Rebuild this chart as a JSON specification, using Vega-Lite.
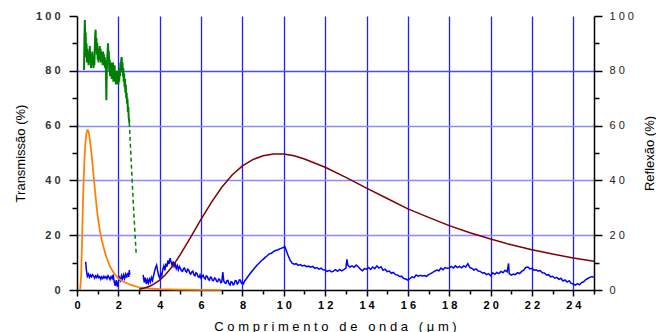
{
  "$schema": "https://vega.github.io/schema/vega-lite/v6.json",
  "width": 517,
  "height": 274,
  "autosize": {"type": "none"},
  "padding": {"left": 77, "top": 16, "right": 62, "bottom": 42},
  "config": {"view": {"stroke": null}, "font": "Liberation Sans"},
  "data": {"values": [
    {"s":"R1","x":0.42,"y":10.3},{"s":"R1","x":0.45,"y":7.5},{"s":"R1","x":0.48,"y":6.0},{"s":"R1","x":0.5,"y":5.0},{"s":"R1","x":0.55,"y":5.8},{"s":"R1","x":0.6,"y":4.6},{"s":"R1","x":0.65,"y":5.5},{"s":"R1","x":0.7,"y":4.8},{"s":"R1","x":0.75,"y":5.6},{"s":"R1","x":0.8,"y":5.1},{"s":"R1","x":0.85,"y":4.3},{"s":"R1","x":0.9,"y":5.2},{"s":"R1","x":0.95,"y":4.6},{"s":"R1","x":1.0,"y":5.4},{"s":"R1","x":1.05,"y":4.5},{"s":"R1","x":1.1,"y":4.9},{"s":"R1","x":1.15,"y":3.9},{"s":"R1","x":1.2,"y":4.8},{"s":"R1","x":1.25,"y":4.2},{"s":"R1","x":1.3,"y":5.0},{"s":"R1","x":1.35,"y":4.4},{"s":"R1","x":1.4,"y":4.9},{"s":"R1","x":1.45,"y":4.1},{"s":"R1","x":1.5,"y":5.2},{"s":"R1","x":1.55,"y":4.6},{"s":"R1","x":1.6,"y":3.8},{"s":"R1","x":1.65,"y":4.9},{"s":"R1","x":1.7,"y":4.2},{"s":"R1","x":1.75,"y":5.6},{"s":"R1","x":1.8,"y":3.0},{"s":"R1","x":1.85,"y":1.5},{"s":"R1","x":1.9,"y":3.6},{"s":"R1","x":1.95,"y":1.2},{"s":"R1","x":2.0,"y":2.8},{"s":"R1","x":2.05,"y":4.5},{"s":"R1","x":2.1,"y":3.5},{"s":"R1","x":2.15,"y":5.2},{"s":"R1","x":2.2,"y":4.0},{"s":"R1","x":2.25,"y":5.5},{"s":"R1","x":2.3,"y":4.2},{"s":"R1","x":2.35,"y":5.8},{"s":"R1","x":2.4,"y":4.5},{"s":"R1","x":2.45,"y":6.2},{"s":"R1","x":2.5,"y":4.8},{"s":"R1","x":2.53,"y":7.3},{"s":"R1","x":2.55,"y":5.5},
    {"s":"R2","x":3.2,"y":5.5},{"s":"R2","x":3.25,"y":2.8},{"s":"R2","x":3.3,"y":4.5},{"s":"R2","x":3.35,"y":2.2},{"s":"R2","x":3.4,"y":3.8},{"s":"R2","x":3.45,"y":2.5},{"s":"R2","x":3.5,"y":4.0},{"s":"R2","x":3.55,"y":2.9},{"s":"R2","x":3.6,"y":4.6},{"s":"R2","x":3.65,"y":3.5},{"s":"R2","x":3.7,"y":5.2},{"s":"R2","x":3.75,"y":6.8},{"s":"R2","x":3.8,"y":8.2},{"s":"R2","x":3.85,"y":9.1},{"s":"R2","x":3.9,"y":7.0},{"s":"R2","x":3.95,"y":5.2},{"s":"R2","x":4.0,"y":4.4},{"s":"R2","x":4.05,"y":6.0},{"s":"R2","x":4.1,"y":5.2},{"s":"R2","x":4.15,"y":7.5},{"s":"R2","x":4.2,"y":8.8},{"s":"R2","x":4.25,"y":7.2},{"s":"R2","x":4.3,"y":9.6},{"s":"R2","x":4.35,"y":8.5},{"s":"R2","x":4.4,"y":10.8},{"s":"R2","x":4.45,"y":9.5},{"s":"R2","x":4.5,"y":11.6},{"s":"R2","x":4.55,"y":10.2},{"s":"R2","x":4.6,"y":9.0},{"s":"R2","x":4.65,"y":10.4},{"s":"R2","x":4.7,"y":8.6},{"s":"R2","x":4.75,"y":9.5},{"s":"R2","x":4.8,"y":7.8},{"s":"R2","x":4.85,"y":8.9},{"s":"R2","x":4.9,"y":7.4},{"s":"R2","x":4.95,"y":8.6},{"s":"R2","x":5.0,"y":7.9},{"s":"R2","x":5.05,"y":7.0},{"s":"R2","x":5.1,"y":6.8},{"s":"R2","x":5.15,"y":7.8},{"s":"R2","x":5.2,"y":8.0},{"s":"R2","x":5.25,"y":6.9},{"s":"R2","x":5.3,"y":6.5},{"s":"R2","x":5.35,"y":7.6},{"s":"R2","x":5.4,"y":7.4},{"s":"R2","x":5.45,"y":6.2},{"s":"R2","x":5.5,"y":5.8},{"s":"R2","x":5.55,"y":6.6},{"s":"R2","x":5.6,"y":6.9},{"s":"R2","x":5.65,"y":5.6},{"s":"R2","x":5.7,"y":5.2},{"s":"R2","x":5.75,"y":6.3},{"s":"R2","x":5.8,"y":6.0},{"s":"R2","x":5.85,"y":4.9},{"s":"R2","x":5.9,"y":4.6},{"s":"R2","x":5.95,"y":5.5},{"s":"R2","x":6.0,"y":4.3},{"s":"R2","x":6.05,"y":4.9},{"s":"R2","x":6.1,"y":5.4},{"s":"R2","x":6.15,"y":4.4},{"s":"R2","x":6.2,"y":4.0},{"s":"R2","x":6.25,"y":5.1},{"s":"R2","x":6.3,"y":5.0},{"s":"R2","x":6.35,"y":3.9},{"s":"R2","x":6.4,"y":3.6},{"s":"R2","x":6.45,"y":4.7},{"s":"R2","x":6.5,"y":4.6},{"s":"R2","x":6.55,"y":3.5},{"s":"R2","x":6.6,"y":3.4},{"s":"R2","x":6.65,"y":4.4},{"s":"R2","x":6.7,"y":4.2},{"s":"R2","x":6.75,"y":3.2},{"s":"R2","x":6.8,"y":3.0},{"s":"R2","x":6.85,"y":4.0},{"s":"R2","x":6.9,"y":3.8},{"s":"R2","x":6.95,"y":2.7},{"s":"R2","x":7.0,"y":2.9},{"s":"R2","x":7.05,"y":6.5},{"s":"R2","x":7.1,"y":3.2},{"s":"R2","x":7.15,"y":2.6},{"s":"R2","x":7.2,"y":2.4},{"s":"R2","x":7.25,"y":3.4},{"s":"R2","x":7.3,"y":3.5},{"s":"R2","x":7.35,"y":2.2},{"s":"R2","x":7.4,"y":1.8},{"s":"R2","x":7.45,"y":3.0},{"s":"R2","x":7.5,"y":2.9},{"s":"R2","x":7.55,"y":1.9},{"s":"R2","x":7.6,"y":2.2},{"s":"R2","x":7.65,"y":3.4},{"s":"R2","x":7.7,"y":3.3},{"s":"R2","x":7.75,"y":2.2},{"s":"R2","x":7.8,"y":2.6},{"s":"R2","x":7.85,"y":3.7},{"s":"R2","x":7.9,"y":3.6},{"s":"R2","x":7.95,"y":2.5},{"s":"R2","x":8.0,"y":2.8},{"s":"R2","x":8.05,"y":2.3},{"s":"R2","x":8.1,"y":3.2},{"s":"R2","x":8.2,"y":4.2},{"s":"R2","x":8.3,"y":5.3},{"s":"R2","x":8.4,"y":6.3},{"s":"R2","x":8.5,"y":7.2},{"s":"R2","x":8.6,"y":8.1},{"s":"R2","x":8.7,"y":9.0},{"s":"R2","x":8.8,"y":9.8},{"s":"R2","x":8.9,"y":10.6},{"s":"R2","x":9.0,"y":11.2},{"s":"R2","x":9.1,"y":11.9},{"s":"R2","x":9.2,"y":12.5},{"s":"R2","x":9.3,"y":13.2},{"s":"R2","x":9.4,"y":13.4},{"s":"R2","x":9.5,"y":14.0},{"s":"R2","x":9.6,"y":14.4},{"s":"R2","x":9.7,"y":14.6},{"s":"R2","x":9.8,"y":15.0},{"s":"R2","x":9.9,"y":15.3},{"s":"R2","x":10.0,"y":15.6},{"s":"R2","x":10.05,"y":15.8},{"s":"R2","x":10.1,"y":14.8},{"s":"R2","x":10.2,"y":12.8},{"s":"R2","x":10.3,"y":11.0},{"s":"R2","x":10.4,"y":9.8},{"s":"R2","x":10.5,"y":9.4},{"s":"R2","x":10.6,"y":9.6},{"s":"R2","x":10.7,"y":9.0},{"s":"R2","x":10.8,"y":9.3},{"s":"R2","x":10.9,"y":8.8},{"s":"R2","x":11.0,"y":9.0},{"s":"R2","x":11.1,"y":8.5},{"s":"R2","x":11.2,"y":8.7},{"s":"R2","x":11.3,"y":8.3},{"s":"R2","x":11.4,"y":8.6},{"s":"R2","x":11.5,"y":7.9},{"s":"R2","x":11.6,"y":8.2},{"s":"R2","x":11.7,"y":7.6},{"s":"R2","x":11.8,"y":8.0},{"s":"R2","x":11.9,"y":7.4},{"s":"R2","x":12.0,"y":7.3},{"s":"R2","x":12.1,"y":6.8},{"s":"R2","x":12.2,"y":7.2},{"s":"R2","x":12.3,"y":6.6},{"s":"R2","x":12.4,"y":6.9},{"s":"R2","x":12.5,"y":7.4},{"s":"R2","x":12.6,"y":6.8},{"s":"R2","x":12.7,"y":7.5},{"s":"R2","x":12.8,"y":7.0},{"s":"R2","x":12.9,"y":7.4},{"s":"R2","x":13.0,"y":8.0},{"s":"R2","x":13.05,"y":11.2},{"s":"R2","x":13.1,"y":9.0},{"s":"R2","x":13.2,"y":8.4},{"s":"R2","x":13.3,"y":8.8},{"s":"R2","x":13.4,"y":8.3},{"s":"R2","x":13.5,"y":9.1},{"s":"R2","x":13.6,"y":8.5},{"s":"R2","x":13.7,"y":7.6},{"s":"R2","x":13.8,"y":7.0},{"s":"R2","x":13.9,"y":7.8},{"s":"R2","x":14.0,"y":7.6},{"s":"R2","x":14.1,"y":8.2},{"s":"R2","x":14.2,"y":7.5},{"s":"R2","x":14.3,"y":8.4},{"s":"R2","x":14.4,"y":7.8},{"s":"R2","x":14.5,"y":8.8},{"s":"R2","x":14.6,"y":8.0},{"s":"R2","x":14.7,"y":8.5},{"s":"R2","x":14.8,"y":7.2},{"s":"R2","x":14.9,"y":7.6},{"s":"R2","x":15.0,"y":6.7},{"s":"R2","x":15.1,"y":6.9},{"s":"R2","x":15.2,"y":6.1},{"s":"R2","x":15.3,"y":6.4},{"s":"R2","x":15.4,"y":5.6},{"s":"R2","x":15.5,"y":5.5},{"s":"R2","x":15.6,"y":4.9},{"s":"R2","x":15.7,"y":5.0},{"s":"R2","x":15.8,"y":4.2},{"s":"R2","x":15.9,"y":4.0},{"s":"R2","x":16.0,"y":3.6},{"s":"R2","x":16.1,"y":4.2},{"s":"R2","x":16.2,"y":4.8},{"s":"R2","x":16.3,"y":4.5},{"s":"R2","x":16.4,"y":5.5},{"s":"R2","x":16.5,"y":5.0},{"s":"R2","x":16.6,"y":5.4},{"s":"R2","x":16.7,"y":5.1},{"s":"R2","x":16.8,"y":5.3},{"s":"R2","x":16.9,"y":5.0},{"s":"R2","x":17.0,"y":5.6},{"s":"R2","x":17.1,"y":6.0},{"s":"R2","x":17.2,"y":6.4},{"s":"R2","x":17.3,"y":6.9},{"s":"R2","x":17.4,"y":7.3},{"s":"R2","x":17.5,"y":7.0},{"s":"R2","x":17.6,"y":8.0},{"s":"R2","x":17.7,"y":7.4},{"s":"R2","x":17.8,"y":8.2},{"s":"R2","x":17.9,"y":7.9},{"s":"R2","x":18.0,"y":8.0},{"s":"R2","x":18.1,"y":8.6},{"s":"R2","x":18.2,"y":8.0},{"s":"R2","x":18.3,"y":8.8},{"s":"R2","x":18.4,"y":8.2},{"s":"R2","x":18.5,"y":8.6},{"s":"R2","x":18.6,"y":8.1},{"s":"R2","x":18.7,"y":8.8},{"s":"R2","x":18.8,"y":8.4},{"s":"R2","x":18.9,"y":9.6},{"s":"R2","x":19.0,"y":8.2},{"s":"R2","x":19.1,"y":7.9},{"s":"R2","x":19.2,"y":7.3},{"s":"R2","x":19.3,"y":7.7},{"s":"R2","x":19.4,"y":6.9},{"s":"R2","x":19.5,"y":6.8},{"s":"R2","x":19.6,"y":6.2},{"s":"R2","x":19.7,"y":6.3},{"s":"R2","x":19.8,"y":5.6},{"s":"R2","x":19.9,"y":6.0},{"s":"R2","x":20.0,"y":5.2},{"s":"R2","x":20.1,"y":6.3},{"s":"R2","x":20.2,"y":5.7},{"s":"R2","x":20.3,"y":6.4},{"s":"R2","x":20.4,"y":6.0},{"s":"R2","x":20.5,"y":6.8},{"s":"R2","x":20.6,"y":6.3},{"s":"R2","x":20.7,"y":7.2},{"s":"R2","x":20.8,"y":6.6},{"s":"R2","x":20.87,"y":9.7},{"s":"R2","x":20.9,"y":6.0},{"s":"R2","x":21.0,"y":5.4},{"s":"R2","x":21.1,"y":5.8},{"s":"R2","x":21.2,"y":5.6},{"s":"R2","x":21.3,"y":6.3},{"s":"R2","x":21.4,"y":6.0},{"s":"R2","x":21.5,"y":6.8},{"s":"R2","x":21.6,"y":7.2},{"s":"R2","x":21.7,"y":8.2},{"s":"R2","x":21.8,"y":8.4},{"s":"R2","x":21.9,"y":7.7},{"s":"R2","x":22.0,"y":7.9},{"s":"R2","x":22.1,"y":7.2},{"s":"R2","x":22.2,"y":7.4},{"s":"R2","x":22.3,"y":6.9},{"s":"R2","x":22.4,"y":7.1},{"s":"R2","x":22.5,"y":6.3},{"s":"R2","x":22.6,"y":6.2},{"s":"R2","x":22.7,"y":5.5},{"s":"R2","x":22.8,"y":5.6},{"s":"R2","x":22.9,"y":4.8},{"s":"R2","x":23.0,"y":5.0},{"s":"R2","x":23.1,"y":4.3},{"s":"R2","x":23.2,"y":4.6},{"s":"R2","x":23.3,"y":3.9},{"s":"R2","x":23.4,"y":4.3},{"s":"R2","x":23.5,"y":3.3},{"s":"R2","x":23.6,"y":3.7},{"s":"R2","x":23.7,"y":2.9},{"s":"R2","x":23.8,"y":3.4},{"s":"R2","x":23.9,"y":2.4},{"s":"R2","x":24.0,"y":2.2},{"s":"R2","x":24.1,"y":1.8},{"s":"R2","x":24.2,"y":2.3},{"s":"R2","x":24.3,"y":1.9},{"s":"R2","x":24.4,"y":2.7},{"s":"R2","x":24.5,"y":3.0},{"s":"R2","x":24.6,"y":3.8},{"s":"R2","x":24.7,"y":4.2},{"s":"R2","x":24.8,"y":4.6},{"s":"R2","x":24.9,"y":4.9},{"s":"R2","x":25.0,"y":4.6},
    {"s":"T","x":0.34,"y":80.3},{"s":"T","x":0.36,"y":92},{"s":"T","x":0.38,"y":98.5},{"s":"T","x":0.40,"y":88},{"s":"T","x":0.42,"y":94},{"s":"T","x":0.44,"y":85},{"s":"T","x":0.46,"y":90},{"s":"T","x":0.48,"y":83},{"s":"T","x":0.50,"y":88},{"s":"T","x":0.52,"y":84},{"s":"T","x":0.54,"y":87},{"s":"T","x":0.56,"y":82},{"s":"T","x":0.58,"y":86},{"s":"T","x":0.60,"y":84},{"s":"T","x":0.62,"y":89},{"s":"T","x":0.64,"y":83},{"s":"T","x":0.66,"y":86},{"s":"T","x":0.68,"y":81},{"s":"T","x":0.70,"y":85},{"s":"T","x":0.72,"y":82},{"s":"T","x":0.74,"y":87},{"s":"T","x":0.76,"y":83},{"s":"T","x":0.78,"y":85},{"s":"T","x":0.80,"y":81},{"s":"T","x":0.82,"y":84},{"s":"T","x":0.84,"y":82},{"s":"T","x":0.86,"y":88},{"s":"T","x":0.88,"y":93},{"s":"T","x":0.90,"y":95},{"s":"T","x":0.92,"y":89},{"s":"T","x":0.94,"y":92},{"s":"T","x":0.96,"y":86},{"s":"T","x":0.98,"y":90},{"s":"T","x":1.00,"y":84},{"s":"T","x":1.02,"y":88},{"s":"T","x":1.04,"y":83},{"s":"T","x":1.06,"y":87},{"s":"T","x":1.08,"y":84},{"s":"T","x":1.10,"y":89},{"s":"T","x":1.12,"y":85},{"s":"T","x":1.14,"y":88},{"s":"T","x":1.16,"y":83},{"s":"T","x":1.18,"y":87},{"s":"T","x":1.20,"y":84},{"s":"T","x":1.22,"y":86},{"s":"T","x":1.24,"y":82},{"s":"T","x":1.26,"y":87},{"s":"T","x":1.28,"y":84},{"s":"T","x":1.30,"y":86},{"s":"T","x":1.32,"y":82},{"s":"T","x":1.34,"y":85},{"s":"T","x":1.36,"y":81},{"s":"T","x":1.38,"y":84},{"s":"T","x":1.40,"y":80},{"s":"T","x":1.42,"y":69.3},{"s":"T","x":1.44,"y":80},{"s":"T","x":1.46,"y":84},{"s":"T","x":1.48,"y":87},{"s":"T","x":1.50,"y":90},{"s":"T","x":1.52,"y":85},{"s":"T","x":1.54,"y":87},{"s":"T","x":1.56,"y":80},{"s":"T","x":1.58,"y":84},{"s":"T","x":1.60,"y":78},{"s":"T","x":1.62,"y":82},{"s":"T","x":1.64,"y":79},{"s":"T","x":1.66,"y":83},{"s":"T","x":1.68,"y":77},{"s":"T","x":1.70,"y":81},{"s":"T","x":1.72,"y":78},{"s":"T","x":1.74,"y":83},{"s":"T","x":1.76,"y":76},{"s":"T","x":1.78,"y":80},{"s":"T","x":1.80,"y":77},{"s":"T","x":1.82,"y":82},{"s":"T","x":1.84,"y":76},{"s":"T","x":1.86,"y":80},{"s":"T","x":1.88,"y":75},{"s":"T","x":1.90,"y":79},{"s":"T","x":1.92,"y":76},{"s":"T","x":1.94,"y":80},{"s":"T","x":1.96,"y":75},{"s":"T","x":1.98,"y":78},{"s":"T","x":2.00,"y":75},{"s":"T","x":2.02,"y":79},{"s":"T","x":2.04,"y":76},{"s":"T","x":2.06,"y":81},{"s":"T","x":2.08,"y":78},{"s":"T","x":2.10,"y":83},{"s":"T","x":2.12,"y":80},{"s":"T","x":2.14,"y":84},{"s":"T","x":2.16,"y":85},{"s":"T","x":2.18,"y":81},{"s":"T","x":2.20,"y":83},{"s":"T","x":2.22,"y":78},{"s":"T","x":2.24,"y":81},{"s":"T","x":2.26,"y":76},{"s":"T","x":2.28,"y":79},{"s":"T","x":2.30,"y":74},{"s":"T","x":2.32,"y":77},{"s":"T","x":2.34,"y":72},{"s":"T","x":2.36,"y":75},{"s":"T","x":2.38,"y":70},{"s":"T","x":2.40,"y":72},{"s":"T","x":2.42,"y":68},{"s":"T","x":2.44,"y":70},{"s":"T","x":2.46,"y":65},{"s":"T","x":2.48,"y":67},{"s":"T","x":2.50,"y":63},{"s":"T","x":2.52,"y":62},{"s":"T","x":2.53,"y":61},
    {"s":"Text","x":2.53,"y":61},{"s":"Text","x":2.6,"y":50},{"s":"Text","x":2.7,"y":35},{"s":"Text","x":2.8,"y":21},{"s":"Text","x":2.86,"y":13.5},
    {"s":"solar","x":0.15,"y":0},{"s":"solar","x":0.2,"y":5},{"s":"solar","x":0.25,"y":20},{"s":"solar","x":0.3,"y":35},{"s":"solar","x":0.35,"y":46},{"s":"solar","x":0.4,"y":53},{"s":"solar","x":0.45,"y":57},{"s":"solar","x":0.5,"y":58.3},{"s":"solar","x":0.55,"y":58},{"s":"solar","x":0.6,"y":56},{"s":"solar","x":0.7,"y":50},{"s":"solar","x":0.8,"y":42},{"s":"solar","x":0.9,"y":34},{"s":"solar","x":1.0,"y":27},{"s":"solar","x":1.1,"y":22},{"s":"solar","x":1.2,"y":18},{"s":"solar","x":1.4,"y":12.5},{"s":"solar","x":1.6,"y":8.5},{"s":"solar","x":1.8,"y":6},{"s":"solar","x":2.0,"y":4.2},{"s":"solar","x":2.25,"y":3},{"s":"solar","x":2.5,"y":2.2},{"s":"solar","x":2.75,"y":1.5},{"s":"solar","x":3.0,"y":1.0},{"s":"solar","x":3.5,"y":0.5},{"s":"solar","x":4.0,"y":0.3},{"s":"solar","x":5.0,"y":0.1},{"s":"solar","x":6.0,"y":0.05},{"s":"solar","x":7.0,"y":0},
    {"s":"cn","x":3.0,"y":0.3},{"s":"cn","x":3.25,"y":0.7},{"s":"cn","x":3.5,"y":1.3},{"s":"cn","x":3.75,"y":2.3},{"s":"cn","x":4.0,"y":3.6},{"s":"cn","x":4.25,"y":5.4},{"s":"cn","x":4.5,"y":7.6},{"s":"cn","x":4.75,"y":10.1},{"s":"cn","x":5.0,"y":13.0},{"s":"cn","x":5.5,"y":19.3},{"s":"cn","x":6.0,"y":25.9},{"s":"cn","x":6.5,"y":32.0},{"s":"cn","x":7.0,"y":37.5},{"s":"cn","x":7.5,"y":42.0},{"s":"cn","x":8.0,"y":45.3},{"s":"cn","x":8.5,"y":47.6},{"s":"cn","x":9.0,"y":49.0},{"s":"cn","x":9.5,"y":49.6},{"s":"cn","x":10.0,"y":49.6},{"s":"cn","x":10.5,"y":49.0},{"s":"cn","x":11.0,"y":47.8},{"s":"cn","x":12.0,"y":44.8},{"s":"cn","x":13.0,"y":41.1},{"s":"cn","x":14.0,"y":37.2},{"s":"cn","x":15.0,"y":33.4},{"s":"cn","x":16.0,"y":29.6},{"s":"cn","x":17.0,"y":26.5},{"s":"cn","x":18.0,"y":23.5},{"s":"cn","x":19.0,"y":20.9},{"s":"cn","x":20.0,"y":18.6},{"s":"cn","x":21.0,"y":16.5},{"s":"cn","x":22.0,"y":14.7},{"s":"cn","x":23.0,"y":13.1},{"s":"cn","x":24.0,"y":11.7},{"s":"cn","x":25.0,"y":10.5}
  ]},
  "encoding": {
    "x": {
      "field": "x", "type": "quantitative",
      "scale": {"domain": [0, 25], "nice": false, "zero": false},
      "axis": {
        "values": [0,1,2,3,4,5,6,7,8,9,10,11,12,13,14,15,16,17,18,19,20,21,22,23,24,25],
        "format": "d",
        "tickSize": {"condition": {"test": "datum.value % 2 === 0 && datum.value < 25", "value": 6}, "value": 4},
        "labelExpr": "datum.value % 2 === 0 && datum.value < 25 ? join(split(datum.label, ''), ' ') : ''",
        "labelFontSize": 11, "labelFontWeight": "bold", "labelColor": "#000", "labelPadding": 3,
        "labelFlush": false, "labelOverlap": false,
        "grid": true, "gridColor": "#2020ff", "gridWidth": 1.3,
        "gridOpacity": {"condition": {"test": "datum.value % 2 === 0 && datum.value > 0 && datum.value < 25", "value": 1}, "value": 0},
        "domainColor": "#000", "domainWidth": 1.5, "tickColor": "#000", "tickWidth": 1.5,
        "title": "C o m p r i m e n t o \u00a0 d e \u00a0 o n d a \u00a0 ( μ m )",
        "titleFontSize": 13, "titleFontWeight": "normal", "titleColor": "#000",
        "titleX": 258, "titleY": 40, "titleBaseline": "alphabetic", "titleAlign": "center"
      }
    }
  },
  "layer": [
    {
      "transform": [{"filter": "datum.s === 'R1' || datum.s === 'R2'"}],
      "mark": {"type": "line", "color": "#0000ff", "strokeWidth": 1.5},
      "encoding": {
        "y": {
          "field": "y", "type": "quantitative",
          "scale": {"domain": [0, 100], "nice": false},
          "axis": {
            "orient": "right",
            "values": [0,10,20,30,40,50,60,70,80,90,100],
            "tickSize": {"condition": {"test": "datum.value % 20 === 0", "value": 8}, "value": 5},
            "labelExpr": "datum.value % 20 === 0 ? join(split(datum.label, ''), ' ') : ''",
            "labelFontSize": 11, "labelFontWeight": "normal", "labelColor": "#222", "labelPadding": 7,
            "labelFlush": false, "labelOverlap": false,
            "grid": false,
            "domainColor": "#000", "domainWidth": 1.5, "tickColor": "#000", "tickWidth": 1.5,
            "title": "Reflexão (%)", "titleFontSize": 13, "titleFontWeight": "normal", "titleColor": "#000",
            "titleX": 55, "titleY": 137, "titleAngle": 270, "titleBaseline": "middle", "titleAlign": "center"
          }
        },
        "detail": {"field": "s"}
      }
    },
    {
      "transform": [{"filter": "datum.s === 'T' || datum.s === 'solar' || datum.s === 'cn'"}],
      "mark": {"type": "line"},
      "encoding": {
        "y": {
          "field": "y", "type": "quantitative",
          "scale": {"domain": [0, 100], "nice": false},
          "axis": {
            "orient": "left",
            "values": [0,10,20,30,40,50,60,70,80,90,100],
            "tickSize": {"condition": {"test": "datum.value % 20 === 0", "value": 8}, "value": 5},
            "labelExpr": "datum.value % 20 === 0 ? join(split(datum.label, ''), ' ') : ''",
            "labelFontSize": 11, "labelFontWeight": "bold", "labelColor": "#333", "labelPadding": 9,
            "labelFlush": false, "labelOverlap": false,
            "grid": true,
            "gridColor": {"condition": {"test": "datum.value == 80", "value": "#4a4aff"}, "value": "#8c8cff"},
            "gridWidth": 1.6,
            "gridOpacity": {"condition": {"test": "datum.value % 20 === 0 && datum.value > 0 && datum.value < 100", "value": 1}, "value": 0},
            "domainColor": "#000", "domainWidth": 1.5, "tickColor": "#000", "tickWidth": 1.5,
            "title": "Transmissão (%)", "titleFontSize": 13, "titleFontWeight": "normal", "titleColor": "#000",
            "titleX": -57, "titleY": 137, "titleAngle": 270, "titleBaseline": "middle", "titleAlign": "center"
          }
        },
        "color": {
          "field": "s", "type": "nominal",
          "scale": {"domain": ["T", "solar", "cn"], "range": ["#007f00", "#ff8000", "#800000"]},
          "legend": null
        },
        "strokeWidth": {
          "field": "s", "type": "nominal",
          "scale": {"domain": ["T", "solar", "cn"], "range": [2, 1.5, 1.2]},
          "legend": null
        }
      }
    },
    {
      "transform": [{"filter": "datum.s === 'Text'"}],
      "mark": {"type": "line", "color": "#008000", "strokeWidth": 1.5, "strokeDash": [4, 3]},
      "encoding": {
        "y": {"field": "y", "type": "quantitative", "scale": {"domain": [0, 100], "nice": false}, "axis": null}
      }
    }
  ],
  "resolve": {"scale": {"y": "independent"}}
}
